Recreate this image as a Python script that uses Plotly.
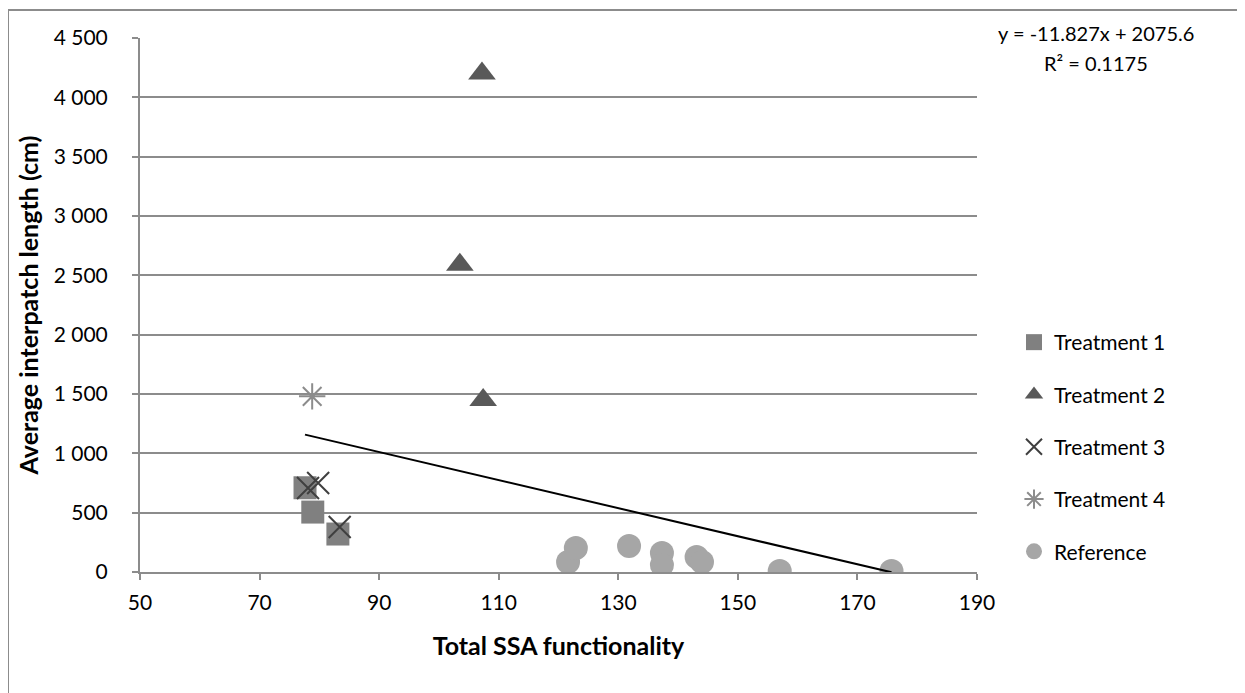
import plotly.graph_objects as go

# ---- data ----
t1_x = [77.6, 78.9, 83.1]
t1_y = [710, 505, 320]
t2_x = [107.2, 103.5, 107.4]
t2_y = [4200, 2590, 1450]
t3_x = [78.1, 79.8, 83.4]
t3_y = [708, 750, 379]
t4_x = [78.8]
t4_y = [1480]
ref_x = [121.6, 122.9, 131.8, 137.3, 137.3, 143.1, 144.0, 157.0, 175.7]
ref_y = [84, 202, 219, 160, 59, 126, 84, 8, 8]

trend_slope = -11.827
trend_intercept = 2075.6
trend_r2 = 0.1175

x_ticks = [50, 70, 90, 110, 130, 150, 170, 190]
y_ticks = [0, 500, 1000, 1500, 2000, 2500, 3000, 3500, 4000, 4500]

FONT = "Lato"

all_x = t1_x + t2_x + t3_x + t4_x + ref_x
x0, x1 = min(all_x), max(all_x)

fig = go.Figure()

fig.add_trace(go.Scatter(x=t1_x, y=t1_y, mode="markers", name="Treatment 1",
                         legendgroup="g1",
                         marker=dict(symbol="square", size=23, color="#808080",
                                     line=dict(width=0))))
fig.add_trace(go.Scatter(x=t2_x, y=t2_y, mode="markers", name="Treatment 2",
                         legendgroup="g2",
                         marker=dict(symbol="triangle-up", size=24, color="#595959",
                                     line=dict(width=0))))
fig.add_trace(go.Scatter(x=t3_x, y=t3_y, mode="markers", name="Treatment 3",
                         legendgroup="g3",
                         marker=dict(symbol="x-thin", size=22, color="#3f3f3f",
                                     line=dict(width=2, color="#3f3f3f"))))
fig.add_trace(go.Scatter(x=t4_x, y=t4_y, mode="markers", name="Treatment 4",
                         legendgroup="g4",
                         marker=dict(symbol="asterisk", size=22, color="#8c8c8c",
                                     line=dict(width=2, color="#8c8c8c"))))
fig.add_trace(go.Scatter(x=ref_x, y=ref_y, mode="markers", name="Reference",
                         legendgroup="g5",
                         marker=dict(symbol="circle", size=24, color="#a6a6a6",
                                     line=dict(width=0))))
fig.add_trace(go.Scatter(x=[x0, x1],
                         y=[trend_slope * x0 + trend_intercept, trend_slope * x1 + trend_intercept],
                         mode="lines", showlegend=False,
                         line=dict(color="black", width=2)))

# page has an 8px body margin; figure is sized to fill the rest of the window
OFF = 8
W, H = 1245 - OFF, 693 - OFF
L, T = 140 - OFF, 38 - OFF
PR, PB = 977, 572  # page pixel of plot right / bottom
R = 1245 - PR
B = 693 - PB
pw, ph = W - L - R, H - T - B

def px(xp):
    return (xp - OFF - L) / pw

def py(yp):
    return (H - B - (yp - OFF)) / ph

fig.update_layout(
    width=W, height=H,
    margin=dict(l=L, r=R, t=T, b=B),
    paper_bgcolor="white", plot_bgcolor="white",
    separators=". ",
    font=dict(family=FONT, size=21, color="black"),
    showlegend=True,
    legend=dict(x=px(1014), y=py(322), xanchor="left", yanchor="top",
                font=dict(family=FONT, size=21, color="black"),
                tracegroupgap=22, itemwidth=30, bgcolor="rgba(0,0,0,0)"),
    xaxis=dict(range=[50, 190], tickvals=x_ticks, showgrid=False, zeroline=False,
               showline=True, linecolor="#8c8c8c", linewidth=2,
               ticks="outside", ticklen=6, tickcolor="#8c8c8c", tickwidth=2,
               ticklabelstandoff=5,
               tickfont=dict(family=FONT, size=21),
               title=dict(text="<b>Total SSA functionality</b>",
                          font=dict(family=FONT, size=25), standoff=24)),
    yaxis=dict(range=[0, 4500], tickvals=y_ticks, tickformat=",d",
               showgrid=True, gridcolor="#8c8c8c", gridwidth=2, zeroline=False,
               showline=True, linecolor="#8c8c8c", linewidth=2,
               ticks="outside", ticklen=6, tickcolor="#8c8c8c", tickwidth=2,
               ticklabelstandoff=20,
               tickfont=dict(family=FONT, size=21),
               title=dict(text="<b>Average interpatch length (cm)</b>",
                          font=dict(family=FONT, size=25), standoff=8)),
    shapes=[dict(type="rect", xref="paper", yref="paper",
                 x0=px(8), x1=px(1239), y0=py(720), y1=py(10),
                 line=dict(color="#8c8c8c", width=2), fillcolor="rgba(0,0,0,0)",
                 layer="below")],
    annotations=[
        dict(xref="paper", yref="paper", x=px(1096), y=py(33),
             xanchor="center", yanchor="middle", showarrow=False,
             text=f"y = {trend_slope}x + {trend_intercept}",
             font=dict(family=FONT, size=20, color="black")),
        dict(xref="paper", yref="paper", x=px(1096), y=py(63),
             xanchor="center", yanchor="middle", showarrow=False,
             text=f"R² = {trend_r2}",
             font=dict(family=FONT, size=20, color="black")),
    ],
)

fig.write_html("out.html")
